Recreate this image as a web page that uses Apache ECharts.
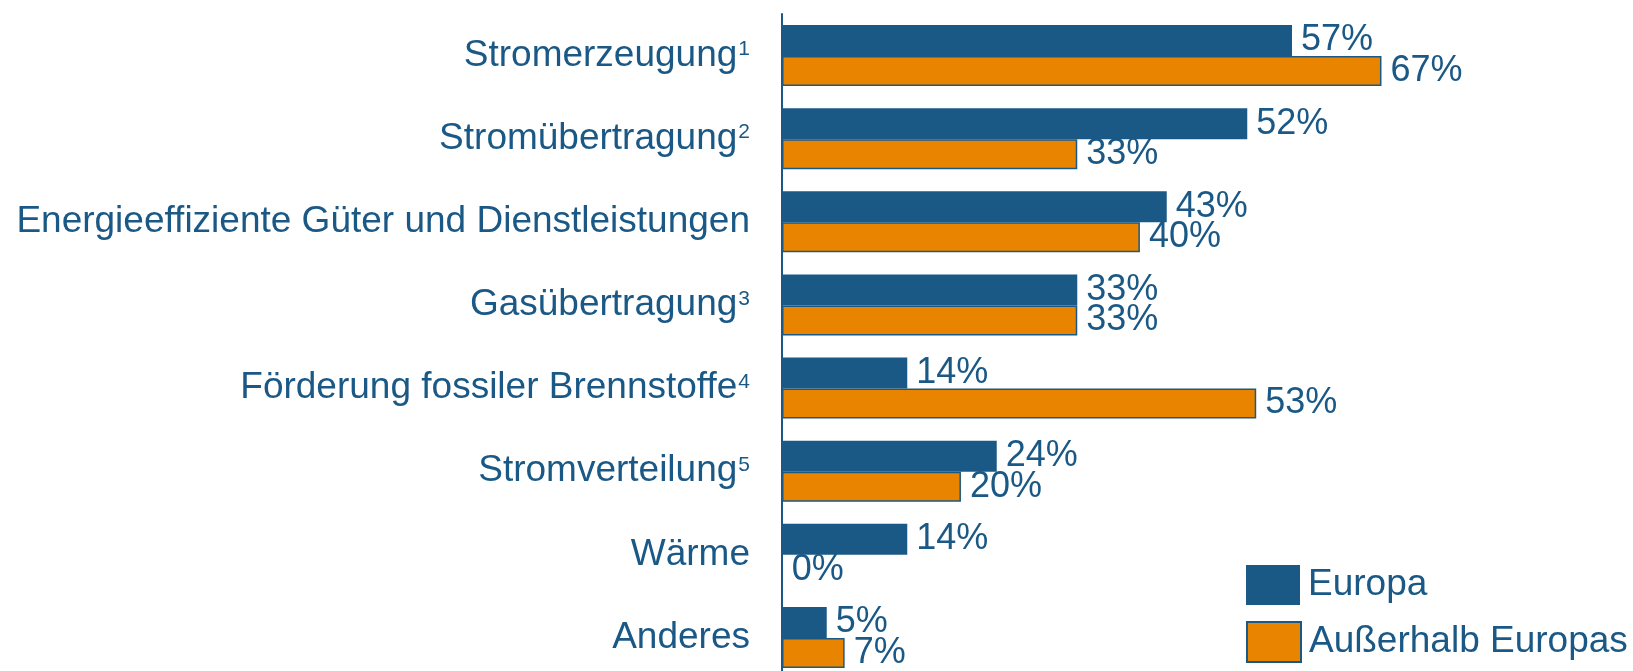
<!DOCTYPE html>
<html>
<head>
<meta charset="utf-8">
<script src="https://cdn.jsdelivr.net/npm/echarts@6/dist/echarts.min.js"></script>
<style>
html,body{margin:0;padding:0;background:#fff;width:1633px;height:671px;overflow:hidden;}
#c{width:1633px;height:690px;}
</style>
</head>
<body>
<div id="c"></div>
<script>
const categories = ["Stromerzeugung", "Stromübertragung", "Energieeffiziente Güter und Dienstleistungen", "Gasübertragung", "Förderung fossiler Brennstoffe", "Stromverteilung", "Wärme", "Anderes"];
const footnotes = ["1", "2", "", "3", "4", "5", "", ""];
const seriesNames = ["Europa", "Außerhalb Europas"];
const europa = [57, 52, 43, 33, 14, 24, 14, 5];
const ausserhalb = [67, 33, 40, 33, 53, 20, 0, 7];

const BLUE = '#1a5886';
const ORANGE = '#e88400';
const FONT = '"Liberation Sans", Arial, sans-serif';

const chart = echarts.init(document.getElementById('c'));
const labelStyle = {
  show: true, position: 'right', distance: 9,
  formatter: p => p.value + '%',
  color: BLUE, fontSize: 36, fontFamily: FONT
};
const legendBase = {
  left: 1246, itemWidth: 54, itemHeight: 40, padding: 0,
  icon: 'rect',
  textStyle: { color: BLUE, fontSize: 37, fontFamily: FONT, padding: [0, 0, 0, 3] }
};
chart.setOption({
  animation: false,
  backgroundColor: '#fff',
  grid: { left: 782, top: 14, width: 850, height: 665, containLabel: false },
  xAxis: { type: 'value', min: 0, max: 95, show: false },
  yAxis: {
    type: 'category', data: categories, inverse: true,
    axisLine: { show: true, lineStyle: { color: BLUE, width: 2 } },
    axisTick: { show: false },
    splitLine: { show: false },
    axisLabel: {
      margin: 32, color: BLUE, fontSize: 37, fontFamily: FONT,
      formatter: (v, i) => footnotes[i] ? '{m|' + v + '}{s|' + footnotes[i] + '}' : '{m|' + v + '}',
      rich: {
        m: { fontSize: 37, color: BLUE, fontFamily: FONT },
        s: { fontSize: 21, color: BLUE, fontFamily: FONT, padding: [0, 0, 12, 1] }
      }
    }
  },
  legend: [
    Object.assign({}, legendBase, { top: 565, data: [seriesNames[0]] }),
    Object.assign({}, legendBase, { top: 621, data: [seriesNames[1]] })
  ],
  series: [
    {
      name: seriesNames[0], type: 'bar', data: europa,
      barWidth: 31, barGap: '0%',
      itemStyle: { color: BLUE },
      label: labelStyle
    },
    {
      name: seriesNames[1], type: 'bar', data: ausserhalb,
      barWidth: 30, barGap: '0%',
      itemStyle: { color: ORANGE, borderColor: BLUE, borderWidth: 1.5 },
      label: labelStyle
    }
  ]
});
</script>
</body>
</html>
